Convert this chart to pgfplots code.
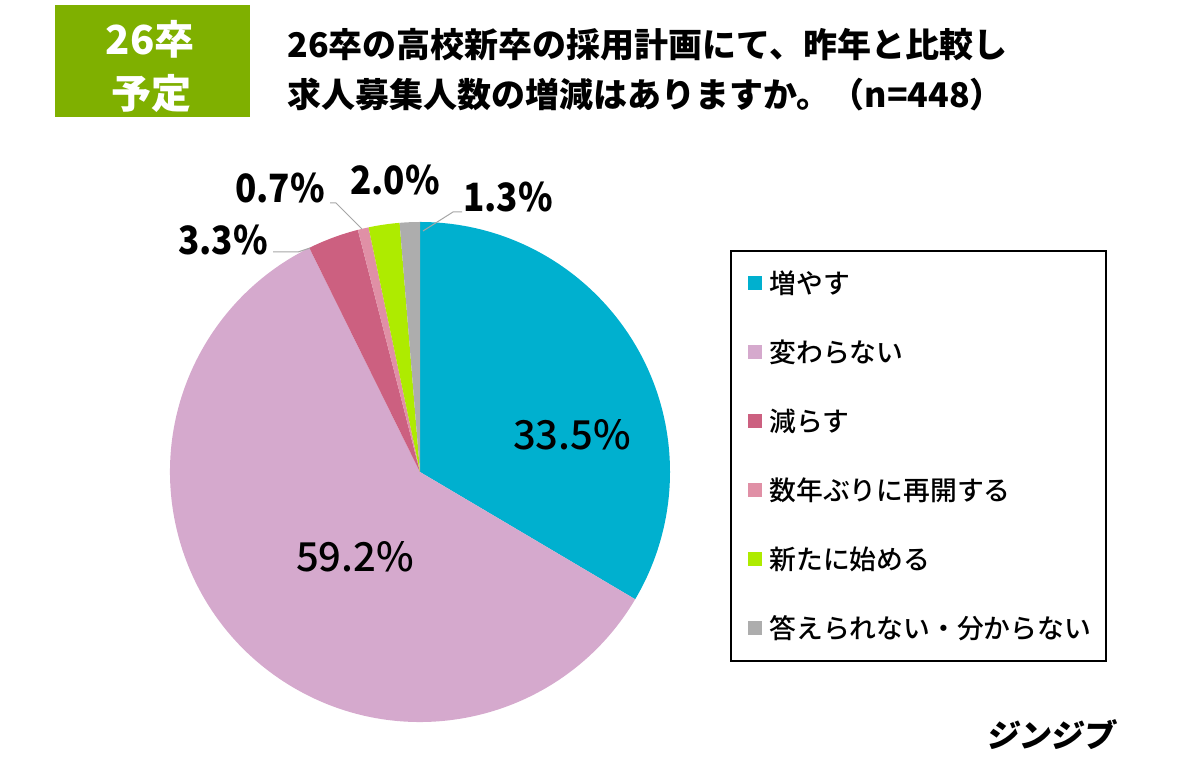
\documentclass[border=0pt]{standalone}
\usepackage{pgfplots}
\pgfplotsset{compat=1.18}
\usepackage{fontspec}
\setmainfont{Noto Sans CJK JP}
\IfFontExistsTF{Noto Sans CJK JP Medium}{\newfontfamily\medfont{Noto Sans CJK JP Medium}}{\newfontfamily\medfont{Noto Sans CJK JP}}
\definecolor{cA}{HTML}{00B0CF}
\definecolor{cB}{HTML}{D5A9CD}
\definecolor{cC}{HTML}{CC6080}
\definecolor{cD}{HTML}{E090A6}
\definecolor{cE}{HTML}{AEEB00}
\definecolor{cF}{HTML}{ADADAD}
\definecolor{boxg}{HTML}{7FB000}
\definecolor{lead}{HTML}{A6A6A6}
\begin{document}
\begin{tikzpicture}
\begin{axis}[x=0.5pt,y=0.5pt,xmin=0,xmax=1200,ymin=0,ymax=781,hide axis,clip=false]
\path (axis cs:0,0) rectangle (axis cs:1200,781);
% pie slices: values 33.5, 59.2, 3.3, 0.7, 2.0, 1.3 (percent), clockwise from top
\fill[cA] (axis cs:420,309) -- ++(90:125pt) arc[start angle=90, delta angle=-3.6*33.5, radius=125pt] -- cycle;
\fill[cB] (axis cs:420,309) -- ++(-30.6:125pt) arc[start angle=-30.6, delta angle=-3.6*59.2, radius=125pt] -- cycle;
\fill[cC] (axis cs:420,309) -- ++(-243.72:125pt) arc[start angle=-243.72, delta angle=-3.6*3.3, radius=125pt] -- cycle;
\fill[cD] (axis cs:420,309) -- ++(-255.6:125pt) arc[start angle=-255.6, delta angle=-3.6*0.7, radius=125pt] -- cycle;
\fill[cE] (axis cs:420,309) -- ++(-258.12:125pt) arc[start angle=-258.12, delta angle=-3.6*2.0, radius=125pt] -- cycle;
\fill[cF] (axis cs:420,309) -- ++(-265.32:125pt) arc[start angle=-265.32, delta angle=-3.6*1.3, radius=125pt] -- cycle;
% leader lines
\draw[lead,line width=0.5pt] (axis cs:273,529) -- (axis cs:298,529) -- (axis cs:310,533);
\draw[lead,line width=0.5pt] (axis cs:330,578) -- (axis cs:336,578) -- (axis cs:362,552);
\draw[lead,line width=0.5pt] (axis cs:423,550) -- (axis cs:453,569) -- (axis cs:462,569);
% labels
\node[font=\medfont\fontsize{20}{24}\selectfont] at (axis cs:572,346) {33.5\%};
\node[font=\medfont\fontsize{20}{24}\selectfont] at (axis cs:355,224) {59.2\%};
\node[font=\bfseries\fontsize{19.5}{23}\selectfont,xscale=0.9] at (axis cs:223,541) {3.3\%};
\node[font=\bfseries\fontsize{19.5}{23}\selectfont,xscale=0.9] at (axis cs:280,593) {0.7\%};
\node[font=\bfseries\fontsize{19.5}{23}\selectfont,xscale=0.9] at (axis cs:395,601) {2.0\%};
\node[font=\bfseries\fontsize{19.5}{23}\selectfont,xscale=0.9] at (axis cs:508,584) {1.3\%};
% header box
\fill[boxg] (axis cs:55,776) rectangle (axis cs:250,664);
\node[white,font=\bfseries\fontsize{20}{24}\selectfont] at (axis cs:150,742) {26卒};
\node[white,font=\bfseries\fontsize{20}{24}\selectfont] at (axis cs:151,688) {予定};
% title
\node[anchor=west,inner sep=0pt,font=\bfseries\fontsize{17}{20}\selectfont] at (axis cs:287,736) {26卒の高校新卒の採用計画にて、昨年と比較し};
\node[anchor=west,inner sep=0pt,font=\bfseries\fontsize{17}{20}\selectfont] at (axis cs:287,686) {求人募集人数の増減はありますか。（n=448）};
% legend
\draw[black,line width=0.75pt] (axis cs:731,530) rectangle (axis cs:1106,120);
\fill[cA] (axis cs:748,505) rectangle (axis cs:762,491);
\fill[cB] (axis cs:748,436) rectangle (axis cs:762,422);
\fill[cC] (axis cs:748,367) rectangle (axis cs:762,353);
\fill[cD] (axis cs:748,298) rectangle (axis cs:762,284);
\fill[cE] (axis cs:748,229) rectangle (axis cs:762,215);
\fill[cF] (axis cs:748,160) rectangle (axis cs:762,146);
\node[anchor=west,inner sep=0pt,font=\medfont\fontsize{13.4}{16}\selectfont] at (axis cs:769,498) {増やす};
\node[anchor=west,inner sep=0pt,font=\medfont\fontsize{13.4}{16}\selectfont] at (axis cs:769,429) {変わらない};
\node[anchor=west,inner sep=0pt,font=\medfont\fontsize{13.4}{16}\selectfont] at (axis cs:769,360) {減らす};
\node[anchor=west,inner sep=0pt,font=\medfont\fontsize{13.4}{16}\selectfont] at (axis cs:769,291) {数年ぶりに再開する};
\node[anchor=west,inner sep=0pt,font=\medfont\fontsize{13.4}{16}\selectfont] at (axis cs:769,222) {新たに始める};
\node[anchor=west,inner sep=0pt,font=\medfont\fontsize{13.4}{16}\selectfont] at (axis cs:769,153) {答えられない・分からない};
% logo
\node[font=\bfseries\fontsize{16}{19}\selectfont,xslant=0.15] at (axis cs:1052,46) {ジンジブ};
\end{axis}
\end{tikzpicture}
\end{document}
